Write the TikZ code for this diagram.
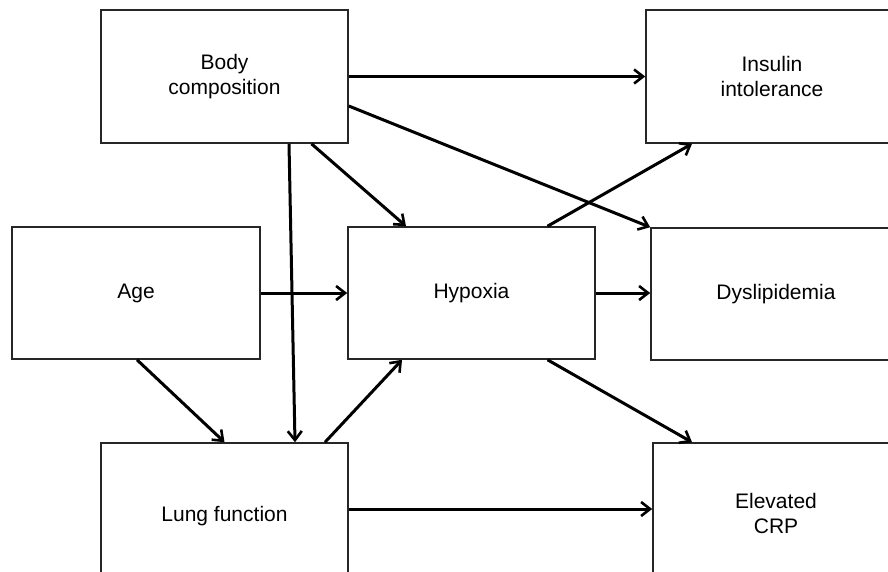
\documentclass[tikz,border=0pt]{standalone}
\usepackage{fontspec}
\setmainfont{Liberation Sans}
\usetikzlibrary{arrows.meta, calc}

\begin{document}
\begin{tikzpicture}[x = 1pt, y = -1pt,
	box/.style = {draw = black!85, line width = 1.6pt, inner sep = 0pt, align = center,
		font = \fontsize{21}{25}\selectfont},
	link/.style = {-{Straight Barb[length = 9pt, width = 14pt, line width = 2.6pt]}, line width = 3pt}]

	\useasboundingbox (0, 0) rectangle (888, 571);
	\clip (0, 0) rectangle (888, 571);

	% Boxes
	
	\node [box, minimum width = 247pt, minimum height = 133pt] (body) at (224.5, 76.5) {Body\\composition};
	\node [box, minimum width = 252pt, minimum height = 133pt] (insulin) at (772, 76.5) {Insulin\\intolerance};
	\node [box, minimum width = 248pt, minimum height = 132pt] (age) at (136, 293) {Age};
	\node [box, minimum width = 247pt, minimum height = 132pt] (hypoxia) at (471.5, 293) {Hypoxia};
	\node [box, minimum width = 250pt, minimum height = 132pt] (dyslip) at (776, 294) {Dyslipidemia};
	\node [box, minimum width = 247pt, minimum height = 146pt] (lung) at (224.5, 516) {Lung function};
	\node [box, minimum width = 246pt, minimum height = 140pt] (crp) at (776, 513) {Elevated\\CRP};
	
	% Arrows from body composition
	
	\draw [link] (body.east) -- (body.east -| insulin.west);
	\draw [link] ([yshift = -29.5pt] body.east) -- (dyslip.north west);
	\draw [link] ([xshift = 64.5pt] body.south) -- ([xshift = 70.5pt] lung.north);
	\draw [link] ([xshift = 87pt] body.south) -- ([xshift = -65.5pt] hypoxia.north);
	
	% Arrows from age and lung function
	
	\draw [link] (age.east) -- (hypoxia.west);
	\draw [link] ([xshift = 1pt] age.south) -- (lung.north);
	\draw [link] ([xshift = 100.5pt] lung.north) -- ([xshift = -69.5pt] hypoxia.south);
	\draw [link] ([yshift = 7pt] lung.east) -- ([yshift = 7pt] lung.east -| crp.west);
	
	% Arrows from hypoxia
	
	\draw [link] ([xshift = 76pt] hypoxia.north) -- ([xshift = -80pt] insulin.south);
	\draw [link] (hypoxia.east) -- (hypoxia.east -| dyslip.west);
	\draw [link] ([xshift = 76pt] hypoxia.south) -- ([xshift = -84pt] crp.north);

\end{tikzpicture}
\end{document}
